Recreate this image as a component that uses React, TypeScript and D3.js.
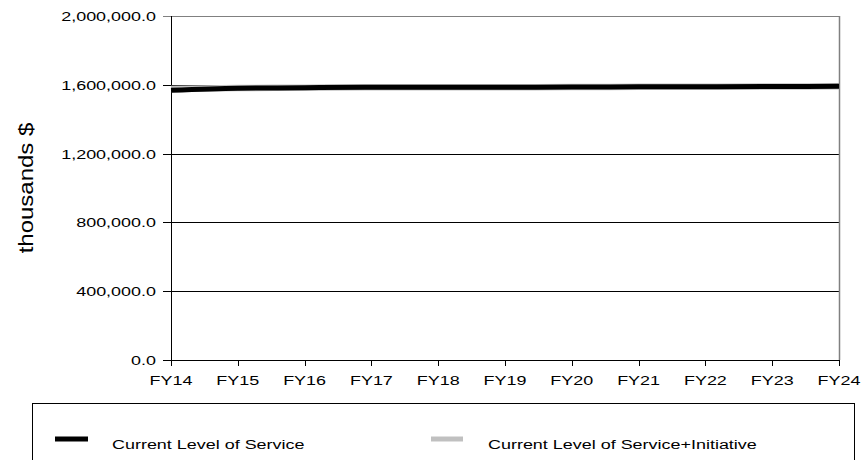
import React from "react";
import * as d3 from "d3";

const categories = ["FY14", "FY15", "FY16", "FY17", "FY18", "FY19", "FY20", "FY21", "FY22", "FY23", "FY24"];
const currentService = [1568000, 1580000, 1583000, 1586000, 1586000, 1586000, 1587000, 1588000, 1588000, 1590000, 1591000];
const serviceInitiative = [1575000, 1581000, 1583000, 1586000, 1586000, 1586000, 1587000, 1588000, 1588000, 1590000, 1591000];
const yTicks = [0, 400000, 800000, 1200000, 1600000, 2000000];
const legendLabels = ["Current Level of Service", "Current Level of Service+Initiative"];

const W = 863;
const H = 460;
const left = 171;
const right = 839;
const top = 16;
const bottom = 360;
const SX = 1.33;
const FONT = "Arial, 'Liberation Sans', sans-serif";

export default function App() {
  const x = d3.scalePoint<string>().domain(categories).range([left, right]);
  const y = d3.scaleLinear().domain([0, 2000000]).range([bottom, top]);
  const line = d3
    .line<number>()
    .x((_, i) => x(categories[i]) as number)
    .y((d) => y(d))
    .curve(d3.curveMonotoneX);
  const fmt = d3.format(",.1f");

  return (
    <svg width={W} height={H} style={{ position: "absolute", left: 0, top: 0, background: "#fff" }} fontFamily={FONT}>
      {/* gridlines */}
      {yTicks.map((t) => (
        <g key={t}>
          <line
            x1={left - 8}
            x2={right}
            y1={Math.round(y(t)) + 0.5}
            y2={Math.round(y(t)) + 0.5}
            stroke={t === 2000000 ? "#808080" : "#000"}
            strokeWidth={1}
          />
          <g transform={`translate(${left - 15},${y(t) + 5}) scale(${SX},1)`}>
            <text textAnchor="end" fontSize={13.5} fill="#000">
              {fmt(t)}
            </text>
          </g>
        </g>
      ))}
      {/* right border */}
      <line x1={right + 0.5} x2={right + 0.5} y1={top} y2={bottom} stroke="#808080" strokeWidth={1.5} />
      {/* y axis */}
      <line x1={left + 0.5} x2={left + 0.5} y1={top} y2={bottom} stroke="#000" strokeWidth={1} />
      {/* x ticks */}
      {categories.map((c) => (
        <g key={c}>
          <line x1={Math.round(x(c) as number) + 0.5} x2={Math.round(x(c) as number) + 0.5} y1={bottom} y2={bottom + 6} stroke="#000" />
          <g transform={`translate(${x(c)},385) scale(${SX},1)`}>
            <text textAnchor="middle" fontSize={13.5} fill="#000">
              {c}
            </text>
          </g>
        </g>
      ))}
      {/* series */}
      <path d={line(serviceInitiative) || ""} fill="none" stroke="#c0c0c0" strokeWidth={6.5} />
      <path d={line(currentService) || ""} fill="none" stroke="#000" strokeWidth={5} />
      {/* y title */}
      <g transform={`translate(33,188) scale(0.85,1) rotate(-90)`}>
        <text textAnchor="middle" fontSize={24} fill="#000">
          thousands $
        </text>
      </g>
      {/* legend */}
      <rect x={32.5} y={403.5} width={822} height={80} fill="none" stroke="#000" strokeWidth={1} />
      <line x1={55} x2={88} y1={439} y2={439} stroke="#000" strokeWidth={5} />
      <g transform={`translate(112,449) scale(${SX},1)`}>
        <text fontSize={13.5} fill="#000">
          {legendLabels[0]}
        </text>
      </g>
      <line x1={431} x2={463} y1={439} y2={439} stroke="#c0c0c0" strokeWidth={5} />
      <g transform={`translate(488,449) scale(${SX},1)`}>
        <text fontSize={13.5} fill="#000">
          {legendLabels[1]}
        </text>
      </g>
    </svg>
  );
}
